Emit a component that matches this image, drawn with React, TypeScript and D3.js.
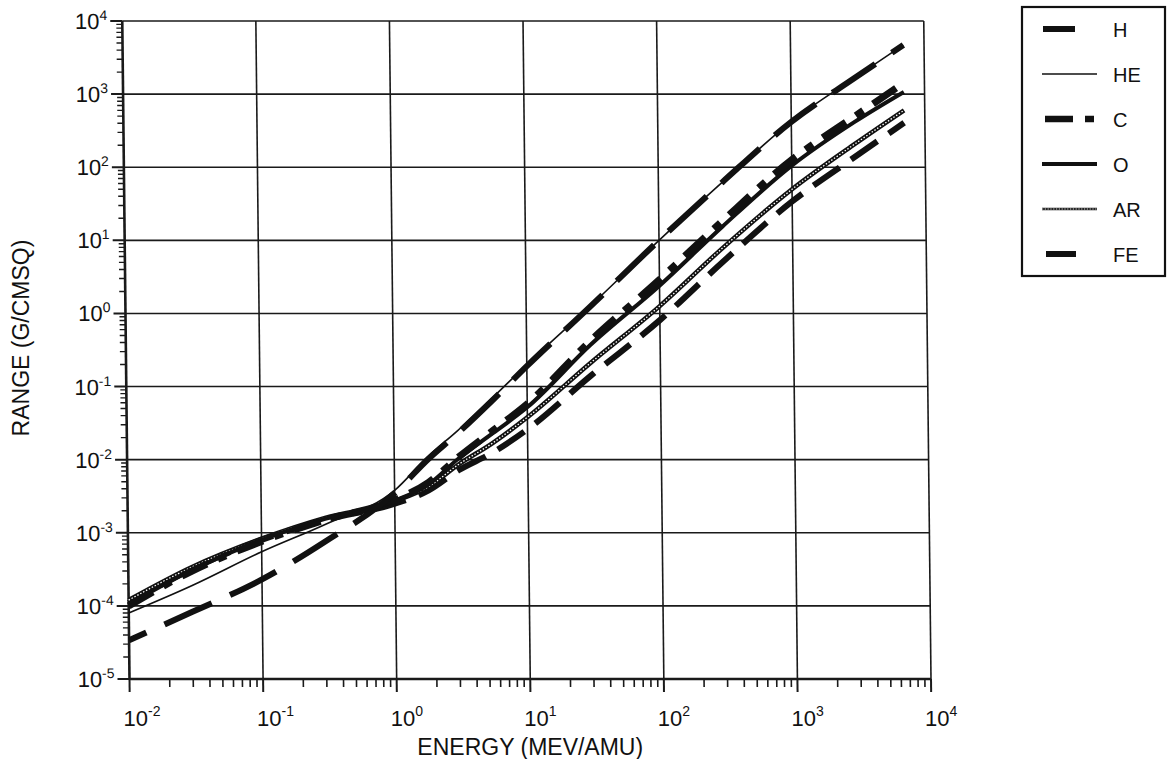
import React from 'react';
import * as d3 from 'd3';

// Energy (MeV/AMU) sample points
const energy = [0.01, 0.03, 0.1, 0.3, 1, 1.8, 3, 5.5, 10, 30, 100, 300, 1000, 3000, 7000];
// Range (g/cm^2) for each ion
const rangeH = [3.4e-5, 8.3e-5, 2.3e-4, 7.6e-4, 3.5e-3, 0.0102, 0.023, 0.065, 0.19, 1.23, 10, 62, 417, 1660, 4680];
const rangeHE = [8e-5, 1.9e-4, 5.5e-4, 1.3e-3, 3.8e-3, 0.0112, 0.025, 0.07, 0.2, 1.25, 10, 62, 420, 1670, 4700];
const rangeC = [1.0e-4, 3.0e-4, 7.6e-4, 1.5e-3, 2.8e-3, 4.9e-3, 0.0107, 0.025, 0.058, 0.42, 2.9, 18.5, 126, 500, 1420];
const rangeO = [1.05e-4, 3.1e-4, 8.0e-4, 1.55e-3, 2.75e-3, 4.6e-3, 0.0102, 0.023, 0.052, 0.37, 2.4, 15.5, 105, 420, 1070];
const rangeAR = [1.2e-4, 3.4e-4, 8.3e-4, 1.6e-3, 2.7e-3, 4.3e-3, 8.5e-3, 0.017, 0.038, 0.21, 1.26, 7.9, 50, 210, 600];
const rangeFE = [1.1e-4, 3.2e-4, 8.0e-4, 1.5e-3, 2.5e-3, 3.8e-3, 7.1e-3, 0.0126, 0.026, 0.14, 0.81, 5.1, 34, 140, 405];

const seriesNames = ['H', 'HE', 'C', 'O', 'AR', 'FE'];
const xTickExps = [-2, -1, 0, 1, 2, 3, 4];
const yTickExps = [-5, -4, -3, -2, -1, 0, 1, 2, 3, 4];

const FONT = "'Liberation Sans', Arial, Helvetica, sans-serif";

type Style = { width: number; dash?: string; offset?: number; hatch?: boolean; legendDash?: string };
const styles: Record<string, Style> = {
  H: { width: 6, dash: '52 20', offset: 33, legendDash: '32 40' },
  HE: { width: 1.6 },
  C: { width: 7, dash: '28 12 9 12', offset: 0, legendDash: '28 12 9 40' },
  O: { width: 4 },
  AR: { width: 4.5, hatch: true },
  FE: { width: 6, dash: '32 14', offset: 10, legendDash: '30 40' },
};

export default function App() {
  const W = 1167;
  const Ht = 759;
  const x0 = 129.5, x1 = 931, yTop = 21, yBot = 679;
  const x = d3.scaleLog().domain([1e-2, 1e4]).range([x0, x1]);
  const y = d3.scaleLog().domain([1e-5, 1e4]).range([yBot, yTop]);

  const data: Record<string, number[]> = {
    H: rangeH, HE: rangeHE, C: rangeC, O: rangeO, AR: rangeAR, FE: rangeFE,
  };

  const line = d3
    .line<number>()
    .x((_, i) => x(energy[i]))
    .y((d) => y(d))
    .curve(d3.curveMonotoneX);

  const minorX: number[] = [];
  for (let e = -2; e < 4; e++) for (let m = 2; m <= 9; m++) minorX.push(m * Math.pow(10, e));
  const minorY: number[] = [];
  for (let e = -5; e < 4; e++) for (let m = 2; m <= 9; m++) minorY.push(m * Math.pow(10, e));

  const skew = `translate(0,${yBot}) skewX(0.63) translate(0,${-yBot})`;
  const drawOrder = ['FE', 'AR', 'O', 'C', 'HE', 'H'];

  const legendX = 1022, legendY = 7, legendW = 143, legendH = 269;
  const legendRow0 = 29, legendStep = 45;
  const lx0 = 1042, lx1 = 1097;

  return (
    <svg
      width={W}
      height={Ht}
      style={{ position: 'absolute', left: 0, top: 0, background: '#fff' }}
      fontFamily={FONT}
    >
      <rect x={0} y={0} width={W} height={Ht} fill="#fff" />
      <g transform={skew}>
        {/* grid */}
        {xTickExps.map((e) => (
          <line key={'gx' + e} x1={x(Math.pow(10, e))} x2={x(Math.pow(10, e))} y1={yTop} y2={yBot}
            stroke="#1a1a1a" strokeWidth={e === -2 ? 2.6 : 1.6} />
        ))}
        {yTickExps.map((e) => (
          <line key={'gy' + e} x1={x0} x2={x1} y1={y(Math.pow(10, e))} y2={y(Math.pow(10, e))}
            stroke="#1a1a1a" strokeWidth={e === -5 ? 2.4 : 1.6} />
        ))}
        {/* minor ticks */}
        {minorX.map((v, i) => (
          <line key={'mx' + i} x1={x(v)} x2={x(v)} y1={yBot} y2={yBot + 8} stroke="#1a1a1a" strokeWidth={1.6} />
        ))}
        {minorY.map((v, i) => (
          <line key={'my' + i} x1={x0 - 6} x2={x0} y1={y(v)} y2={y(v)} stroke="#1a1a1a" strokeWidth={1.4} />
        ))}
        {/* major ticks */}
        {xTickExps.map((e) => (
          <line key={'tx' + e} x1={x(Math.pow(10, e))} x2={x(Math.pow(10, e))} y1={yBot} y2={yBot + 13}
            stroke="#1a1a1a" strokeWidth={2} />
        ))}
        {yTickExps.map((e) => (
          <line key={'ty' + e} x1={x0 - 12} x2={x0} y1={y(Math.pow(10, e))} y2={y(Math.pow(10, e))}
            stroke="#1a1a1a" strokeWidth={2} />
        ))}
        {/* y tick labels */}
        {yTickExps.map((e) => (
          <text key={'ly' + e} x={x0 - 15} y={y(Math.pow(10, e)) + 8} textAnchor="end" fontSize={22} fill="#111">
            10<tspan fontSize={14} dy={-9}>{String(e)}</tspan>
          </text>
        ))}
        {/* curves */}
        {drawOrder.map((name) => {
          const s = styles[name];
          const d = line(data[name]) || '';
          if (s.hatch) {
            return (
              <g key={name}>
                <path d={d} fill="none" stroke="#111" strokeWidth={s.width} />
                <path d={d} fill="none" stroke="#fff" strokeWidth={1.3} strokeDasharray="1.5 1.8" />
              </g>
            );
          }
          return (
            <path key={name} d={d} fill="none" stroke="#111" strokeWidth={s.width}
              strokeDasharray={s.dash} strokeDashoffset={s.offset} />
          );
        })}
      </g>
      {/* x tick labels */}
      {xTickExps.map((e) => (
        <text key={'lx' + e} x={x(Math.pow(10, e)) - 6} y={726} textAnchor="start" fontSize={22} fill="#111">
          10<tspan fontSize={14} dy={-10}>{String(e)}</tspan>
        </text>
      ))}
      {/* axis titles */}
      <text x={(x0 + x1) / 2} y={755} textAnchor="middle" fontSize={23} fill="#111">ENERGY (MEV/AMU)</text>
      <text transform={`translate(29,338) rotate(-90)`} textAnchor="middle" fontSize={23} fill="#111">RANGE (G/CMSQ)</text>
      {/* legend */}
      <rect x={legendX} y={legendY} width={legendW} height={legendH} fill="#fff" stroke="#111" strokeWidth={2.2} />
      {seriesNames.map((name, i) => {
        const s = styles[name];
        const ly = legendRow0 + i * legendStep;
        let sample;
        if (s.hatch) {
          sample = (
            <g>
              <line x1={lx0} x2={lx1} y1={ly} y2={ly} stroke="#222" strokeWidth={2.6} />
              <line x1={lx0} x2={lx1} y1={ly} y2={ly} stroke="#fff" strokeWidth={0.8} strokeDasharray="1.2 1.6" />
            </g>
          );
        } else if (s.legendDash) {
          const start = name === 'FE' ? lx0 + 4 : name === 'C' ? lx0 + 3 : lx0 + 1;
          sample = (
            <line x1={start} x2={lx1} y1={ly} y2={ly} stroke="#111" strokeWidth={name === 'C' ? 6.5 : 6}
              strokeDasharray={s.legendDash} />
          );
        } else {
          sample = (
            <line x1={lx0} x2={lx1} y1={ly} y2={ly} stroke="#111" strokeWidth={name === 'O' ? 4 : 1.6} />
          );
        }
        return (
          <g key={'lg' + name}>
            {sample}
            <text x={1113} y={ly + 7.5} fontSize={20} fill="#111">{name}</text>
          </g>
        );
      })}
    </svg>
  );
}
